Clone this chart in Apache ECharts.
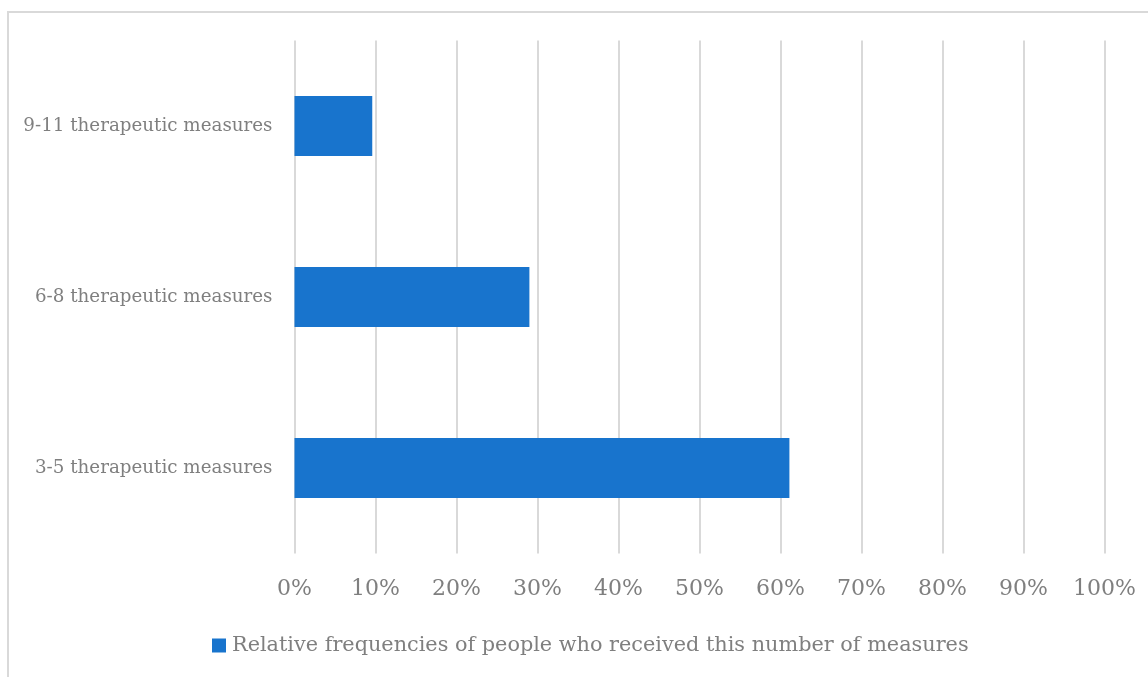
<!DOCTYPE html>
<html>
<head>
<meta charset="utf-8">
<script src="https://cdn.jsdelivr.net/npm/echarts@6/dist/echarts.min.js"></script>
<style>
  html, body { margin: 0; padding: 0; background: #fff; }
  #chart { width: 1148px; height: 677px; }
</style>
</head>
<body>
<div id="chart"></div>
<script>
// categories from bottom to top (as drawn on the y axis)
var categories = ['3-5 therapeutic measures', '6-8 therapeutic measures', '9-11 therapeutic measures'];
var values = [61.1, 29.0, 9.6];
var seriesName = 'Relative frequencies of people who received this number of measures';

var textColor = '#7f7f7f';
var fontFamily = '"DejaVu Serif", serif';

var chart = echarts.init(document.getElementById('chart'));
chart.setOption({
  animation: false,
  graphic: [{
    type: 'rect',
    shape: { x: 8, y: 12, width: 1200, height: 720 },
    style: { fill: 'none', stroke: '#d9d9d9', lineWidth: 2 },
    silent: true
  }],
  grid: { left: 294.5, right: 43.5, top: 40.5, bottom: 123.5, outerBoundsMode: 'none', containLabel: false },
  legend: {
    top: 630,
    left: 207,
    itemWidth: 14,
    itemHeight: 14,
    itemGap: 7,
    icon: 'rect',
    textStyle: { color: textColor, fontSize: 20.8, fontFamily: fontFamily, padding: [0, 0, 0, 1] }
  },
  xAxis: {
    type: 'value',
    min: 0,
    max: 100,
    interval: 10,
    axisLine: { show: false },
    axisTick: { show: false },
    splitLine: { lineStyle: { color: '#d9d9d9', width: 2 } },
    axisLabel: {
      formatter: '{value}%',
      color: textColor,
      fontSize: 22,
      fontFamily: fontFamily,
      margin: 25
    }
  },
  yAxis: {
    type: 'category',
    data: categories,
    axisLine: { show: false },
    axisTick: { show: false },
    axisLabel: { color: textColor, fontSize: 18.3, fontFamily: fontFamily, margin: 22 }
  },
  series: [{
    name: seriesName,
    type: 'bar',
    data: values,
    barWidth: '35%',
    itemStyle: { color: '#1874cd' }
  }]
});
</script>
</body>
</html>
